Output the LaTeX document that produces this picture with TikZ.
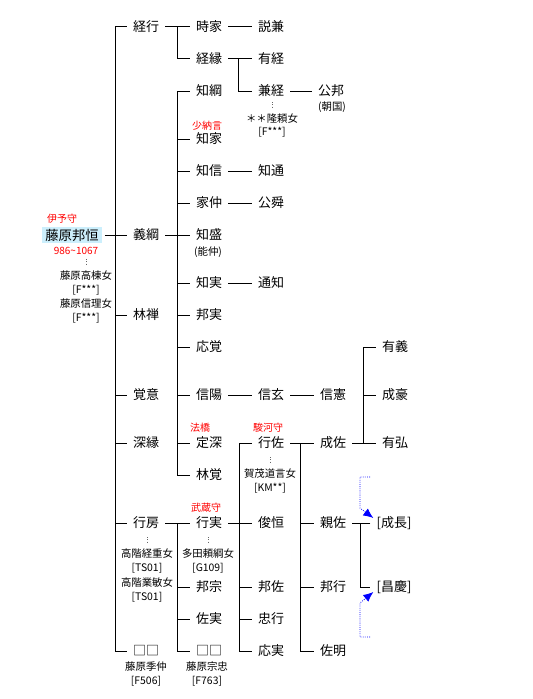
\documentclass[tikz,border=0pt]{standalone}
\usepackage{fontspec}
\newfontfamily\jp{Noto Sans CJK JP}
\usetikzlibrary{arrows.meta}
\begin{document}
\begin{tikzpicture}[x=0.75pt,y=-0.75pt,
  nm/.style={font=\jp\fontsize{9.75pt}{11pt}\selectfont, inner xsep=4.5pt, inner ysep=0pt, text height=9.7pt, text depth=2.3pt},
  root/.style={font=\jp\fontsize{10pt}{11pt}\selectfont, fill=cyan!20, inner xsep=2.25pt, inner ysep=0pt, text height=9.8pt, text depth=2.2pt},
  sm/.style={font=\jp\fontsize{7.8pt}{9pt}\selectfont, inner sep=0pt, text height=7.5pt, text depth=1.5pt},
  rd/.style={font=\jp\fontsize{7.5pt}{9pt}\selectfont, text=red, inner sep=0pt},
  ln/.style={draw=black, line width=0.75pt},
  spouse/.style={draw=black!60, densely dotted, line width=0.6pt},
  barrow/.style={draw=blue, densely dotted, line width=0.6pt, -{Latex[length=7.5pt,width=6.5pt]}},
]
\useasboundingbox (0,0) rectangle (532,699);

% ---------- root ----------
\node[rd] (iyo) at (62,219) {伊予守};
\node[root] (kunitsune) at (72,235) {藤原邦恒};
\node[rd] (life) at (76,251) {986\textasciitilde1067};
\node[sm] (w1) at (86,275) {藤原高棟女};
\node[sm] (w1c) at (86,289) {[F***]};
\node[sm] (w2) at (86,303) {藤原信理女};
\node[sm] (w2c) at (86,317) {[F***]};

% ---------- column 1 ----------
\node[nm] (kx) at (146,27) {経行};
\node[nm] (yoshitsuna) at (146,235) {義綱};
\node[nm] (rinzen) at (146,315) {林禅};
\node[nm] (kakui) at (146,395) {覚意};
\node[nm] (shinen) at (146,443) {深縁};
\node[nm] (yukifusa) at (146,523) {行房};
\node[nm] (sq1) at (146,651) {□□};
\node[sm] (suenaka) at (146,666) {藤原季仲};
\node[sm] (suenakac) at (146,680) {[F506]};
\node[sm] (w3) at (147,553) {高階経重女};
\node[sm] (w3c) at (147,567) {[TS01]};
\node[sm] (w4) at (147,582) {高階業敏女};
\node[sm] (w4c) at (147,596) {[TS01]};

% ---------- column 2 ----------
\node[nm] (tokiie) at (209,27) {時家};
\node[nm] (tsuneyori) at (209,59) {経縁};
\node[nm] (tomotsuna) at (209,91) {知綱};
\node[rd] (shonagon) at (207,126) {少納言};
\node[nm] (tomoie) at (209,139) {知家};
\node[nm] (tomonobu) at (209,171) {知信};
\node[nm] (ienaka) at (209,203) {家仲};
\node[nm] (tomomori) at (209,235) {知盛};
\node[sm] (yoshinaka) at (208,251) {(能仲)};
\node[nm] (tomozane) at (209,283) {知実};
\node[nm] (kunizane) at (209,315) {邦実};
\node[nm] (ougaku) at (209,347) {応覚};
\node[nm] (nobuaki) at (209,395) {信陽};
\node[rd] (hokkyo) at (200,428) {法橋};
\node[nm] (joushin) at (209,443) {定深};
\node[nm] (ringaku) at (209,475) {林覚};
\node[rd] (musashi) at (206,508) {武蔵守};
\node[nm] (yukizane) at (209,523) {行実};
\node[sm] (w5) at (208,553) {多田頼綱女};
\node[sm] (w5c) at (208,567) {[G109]};
\node[nm] (kunimune) at (209,587) {邦宗};
\node[nm] (sukezane) at (209,619) {佐実};
\node[nm] (sq2) at (209,651) {□□};
\node[sm] (munetada) at (207,666) {藤原宗忠};
\node[sm] (munetadac) at (207,680) {[F763]};

% ---------- column 3 ----------
\node[nm] (tokikane) at (271,27) {説兼};
\node[nm] (aritsune) at (271,59) {有経};
\node[nm] (kanetsune) at (271,91) {兼経};
\node[sm] (w6) at (272,118) {＊＊隆頼女};
\node[sm] (w6c) at (272,131) {[F***]};
\node[nm] (tomomichi) at (271,171) {知通};
\node[nm] (koushun) at (271,203) {公舜};
\node[nm] (michitomo) at (271,283) {通知};
\node[nm] (shingen) at (271,395) {信玄};
\node[rd] (suruga) at (268,428) {駿河守};
\node[nm] (yukisuke) at (271,443) {行佐};
\node[sm] (w7) at (270,473) {賀茂道言女};
\node[sm] (w7c) at (270,487) {[KM**]};
\node[nm] (toshitsune) at (271,523) {俊恒};
\node[nm] (kunisuke) at (271,587) {邦佐};
\node[nm] (tadayuki) at (271,619) {忠行};
\node[nm] (ouzane) at (271,651) {応実};

% ---------- column 4 ----------
\node[nm] (kimikuni) at (331,91) {公邦};
\node[sm] (tomokuni) at (332,106) {(朝国)};
\node[nm] (nobunori) at (333,395) {信憲};
\node[nm] (narisuke) at (333,443) {成佐};
\node[nm] (chikasuke) at (333,523) {親佐};
\node[nm] (kuniyuki) at (333,587) {邦行};
\node[nm] (sukeaki) at (333,651) {佐明};

% ---------- column 5 ----------
\node[nm] (ariyoshi) at (395,347) {有義};
\node[nm] (seigou) at (395,395) {成豪};
\node[nm] (arihiro) at (395,443) {有弘};
\node[nm] (seicho) at (394,523) {[成長]};
\node[nm] (shokei) at (394,587) {[昌慶]};

% ---------- connectors ----------
% root
\draw[ln, shorten <=2.25pt] (kunitsune.east) -- (yoshitsuna.west);
\draw[ln] (kx.west) -- ++(-11,0) |- (sq1.west);
\foreach \n in {rinzen,kakui,shinen,yukifusa} \draw[ln] (\n.west) -- ++(-11,0);

% 経行
\draw[ln] (kx.east) -- (tokiie.west);
\draw[ln] (tokiie.west) -- ++(-12,0) |- (tsuneyori.west);
\draw[ln] (tokiie.east) -- (tokikane.west);
% 経縁
\draw[ln] (tsuneyori.east) -- (aritsune.west);
\draw[ln] (aritsune.west) -- ++(-13,0) |- (kanetsune.west);
\draw[ln] (kanetsune.east) -- (kimikuni.west);

% 義綱
\draw[ln] (yoshitsuna.east) -- (tomomori.west);
\draw[ln] (tomotsuna.west) -- ++(-12,0) |- (ringaku.west);
\foreach \n in {tomoie,tomonobu,ienaka,tomozane,kunizane,ougaku,nobuaki,joushin} \draw[ln] (\n.west) -- ++(-12,0);
\draw[ln] (tomonobu.east) -- (tomomichi.west);
\draw[ln] (ienaka.east) -- (koushun.west);
\draw[ln] (tomozane.east) -- (michitomo.west);
\draw[ln] (nobuaki.east) -- (shingen.west);
\draw[ln] (shingen.east) -- (nobunori.west);

% 行房
\draw[ln] (yukifusa.east) -- (yukizane.west);
\draw[ln] (yukizane.west) -- ++(-12,0) |- (sq2.west);
\foreach \n in {kunimune,sukezane} \draw[ln] (\n.west) -- ++(-12,0);

% 行実
\draw[ln] (yukizane.east) -- (toshitsune.west);
\draw[ln] (yukisuke.west) -- ++(-12,0) |- (ouzane.west);
\foreach \n in {kunisuke,tadayuki} \draw[ln] (\n.west) -- ++(-12,0);

% 行佐
\draw[ln] (yukisuke.east) -- (narisuke.west);
\draw[ln] (narisuke.west) -- ++(-13,0) |- (sukeaki.west);
\foreach \n in {chikasuke,kuniyuki} \draw[ln] (\n.west) -- ++(-13,0);

% 成佐
\draw[ln] (narisuke.east) -- (arihiro.west);
\draw[ln] (arihiro.west) -- ++(-12,0) |- (ariyoshi.west);
\draw[ln] (seigou.west) -- ++(-12,0);

% 親佐
\draw[ln] (chikasuke.east) -- (seicho.west);
\draw[ln] (seicho.west) -- ++(-10,0) |- (shokei.west);

% spouse dots
\draw[spouse, shorten <=12pt, shorten >=3pt] (w1.north |- kunitsune.south) -- (w1.north);
\draw[spouse, shorten <=2.25pt, shorten >=3pt] (w6.north |- kanetsune.south) -- (w6.north);
\draw[spouse, shorten <=4.5pt, shorten >=3pt] (w7.north |- yukisuke.south) -- (w7.north);
\draw[spouse, shorten <=4.5pt, shorten >=3pt] (w3.north |- yukifusa.south) -- (w3.north);
\draw[spouse, shorten <=4.5pt, shorten >=3pt] (w5.north |- yukizane.south) -- (w5.north);

% blue arrows
\coordinate (ba1) at (370,477);
\coordinate (ba2) at (370,637);
\draw[barrow] (ba1) -- ++(-10,0) -- ++(0,31) -- ([shift={(3,-5)}]seicho.west);
\draw[barrow] (ba2) -- ++(-10,0) -- ++(0,-34) -- ([shift={(3,5)}]shokei.west);
\end{tikzpicture}
\end{document}
